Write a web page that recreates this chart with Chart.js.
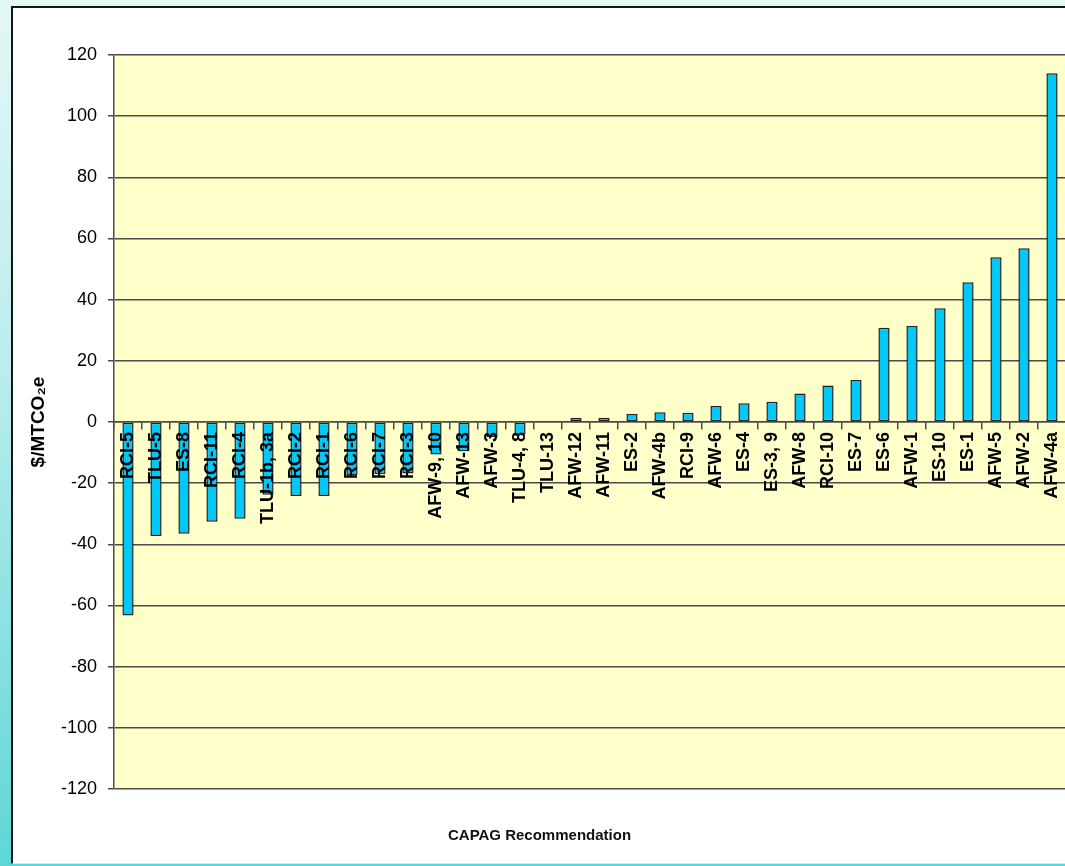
<!DOCTYPE html>
<html>
<head>
<meta charset="utf-8">
<script src="https://cdn.jsdelivr.net/npm/chart.js@4"></script>
<style>
  html, body { margin: 0; padding: 0; width: 1065px; height: 866px; overflow: hidden; }
  body { background: linear-gradient(to bottom, #e4f7f7 0%, #b8ecec 45%, #5ed6d6 100%); position: relative; }
  #panel { position: absolute; left: 11px; top: 6px; width: 1070px; height: 855px; background: #ffffff; border-top: 2px solid #151515; border-left: 2px solid #151515; border-bottom: 1px solid #d8e8e8; }
  #c { position: absolute; left: 0; top: 0; }
</style>
</head>
<body>
<div id="panel"><canvas id="c" width="1053" height="854"></canvas></div>
<script>
const categories = ["RCI-5","TLU-5","ES-8","RCI-11","RCI-4","TLU-1b, 3a","RCI-2","RCI-1","RCI-6","RCI-7","RCI-3","AFW-9, 10","AFW-13","AFW-3","TLU-4, 8","TLU-13","AFW-12","AFW-11","ES-2","AFW-4b","RCI-9","AFW-6","ES-4","ES-3, 9","AFW-8","RCI-10","ES-7","ES-6","AFW-1","ES-10","ES-1","AFW-5","AFW-2","AFW-4a"];
const costValues = [-63.3,-37.3,-36.5,-32.6,-31.6,-23.8,-24.2,-24.2,-17.3,-17.0,-16.8,-10.6,-9.6,-4.9,-4.2,0,1.4,1.4,2.6,3.2,3.0,5.2,6.1,6.6,9.3,11.9,13.7,30.8,31.4,37.2,45.7,53.9,56.8,114];
const yTicks = [-120,-100,-80,-60,-40,-20,0,20,40,60,80,100,120];
const yTitle = "$/MTCO\u2082e";
const xTitle = "CAPAG Recommendation";

const FONT = "'Liberation Sans', Arial, sans-serif";

const plotBg = {
  id: 'plotBg',
  beforeDraw(chart) {
    const {ctx, chartArea: a} = chart;
    ctx.save();
    ctx.fillStyle = '#ffffc9';
    ctx.fillRect(a.left, a.top, a.right - a.left + 2, a.bottom - a.top);
    ctx.restore();
  }
};

new Chart(document.getElementById('c'), {
  type: 'bar',
  data: {
    labels: categories,
    datasets: [{
      data: costValues,
      backgroundColor: '#00c8f8',
      borderColor: '#222222',
      borderWidth: 1.5,
      borderSkipped: false,
      barPercentage: 0.4,
      categoryPercentage: 1.0
    }]
  },
  options: {
    responsive: false,
    animation: false,
    devicePixelRatio: 1,
    layout: { padding: { top: 47, left: 0, right: 0, bottom: 0 } },
    plugins: {
      legend: { display: false },
      tooltip: { enabled: false },
      title: {
        display: true,
        text: xTitle,
        position: 'bottom',
        color: '#111',
        font: { family: FONT, size: 15, weight: 'bold', lineHeight: 1.2 },
        padding: { top: 38, bottom: 17 }
      }
    },
    scales: {
      x: {
        position: { y: 0 },
        afterFit(s) { s.height = 0; s.paddingLeft = 0; s.paddingRight = 0; },
        grid: { display: true, drawOnChartArea: false, drawTicks: true, tickLength: 7, color: '#4a4a4a', lineWidth: 1.5, offset: true },
        border: { display: true, color: '#4a4a4a', width: 1.5 },
        ticks: {
          z: 1,
          autoSkip: false, maxRotation: 90, minRotation: 90, padding: 3,
          color: '#000', font: { family: FONT, size: 18, weight: 'bold' }
        }
      },
      y: {
        min: -120, max: 120,
        afterFit(s) { s.width = 101; s.paddingTop = 0; s.paddingBottom = 0; },
        afterBuildTicks(s) { s.ticks = yTicks.map(v => ({ value: v })); },
        grid: { color: '#4a4a4a', lineWidth: 1.5, drawTicks: true, tickLength: 6 },
        border: { display: true, color: '#4a4a4a', width: 1.5 },
        ticks: { color: '#000', padding: 11, font: { family: FONT, size: 18 } },
        title: {
          display: true, text: yTitle, color: '#000',
          font: { family: FONT, size: 19, weight: 'bold' },
          padding: { top: 14, bottom: 0 }
        }
      }
    }
  },
  plugins: [plotBg]
});
</script>
</body>
</html>
